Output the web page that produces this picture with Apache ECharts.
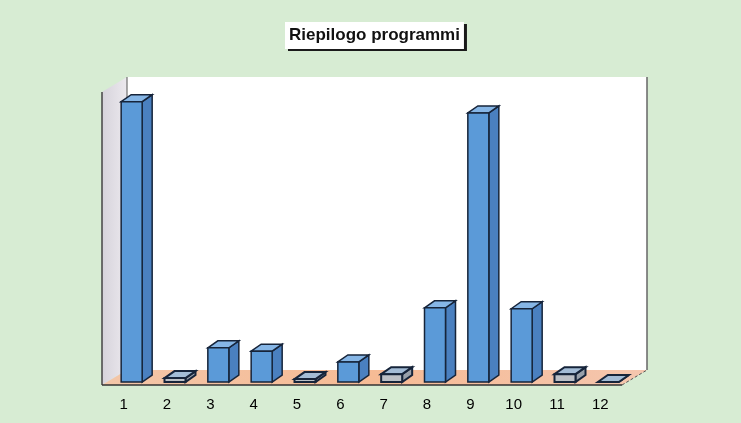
<!DOCTYPE html>
<html>
<head>
<meta charset="utf-8">
<script src="https://cdn.jsdelivr.net/npm/echarts@6/dist/echarts.min.js"></script>
<style>
  html, body { margin: 0; padding: 0; background: #d7ecd3; }
  #chart { width: 741px; height: 423px; }
</style>
</head>
<body>
<div id="chart"></div>
<script>
// dati del grafico
const programmi = ['1', '2', '3', '4', '5', '6', '7', '8', '9', '10', '11', '12'];
const valori = [57.4, 0.8, 7, 6.3, 0.6, 4.1, 1.6, 15.2, 55.1, 15, 1.6, 0];

// profondita' 3D (pareti e barre)
const wallDx = 25, wallDy = -15;
const barDx = 10, barDy = -7;

const chart = echarts.init(document.getElementById('chart'));

function renderFrame(params, api) {
  const cs = params.coordSys;
  const x0 = cs.x, y0 = cs.y, w = cs.width, h = cs.height;
  return {
    type: 'group',
    children: [
      { // parete di fondo
        type: 'rect',
        shape: { x: x0 + wallDx, y: y0 + wallDy, width: w, height: h },
        style: { fill: '#ffffff' }
      },
      { // parete sinistra
        type: 'polygon',
        shape: { points: [[x0, y0], [x0 + wallDx, y0 + wallDy], [x0 + wallDx, y0 + h + wallDy], [x0, y0 + h]] },
        style: {
          fill: new echarts.graphic.LinearGradient(0, 0, 1, 0, [
            { offset: 0, color: '#d6d3db' },
            { offset: 1, color: '#ece9ee' }
          ])
        }
      },
      { // pavimento
        type: 'polygon',
        shape: { points: [[x0, y0 + h], [x0 + wallDx, y0 + h + wallDy], [x0 + w + wallDx, y0 + h + wallDy], [x0 + w, y0 + h]] },
        style: {
          fill: new echarts.graphic.LinearGradient(0, 0, 1, 0, [
            { offset: 0, color: '#f3c6a8' },
            { offset: 0.5, color: '#f6bb95' },
            { offset: 1, color: '#f5c6ae' }
          ])
        }
      },
      { type: 'line', shape: { x1: x0, y1: y0, x2: x0, y2: y0 + h }, style: { stroke: '#444', lineWidth: 1.5 } },
      { type: 'line', shape: { x1: x0 + wallDx, y1: y0 + wallDy, x2: x0 + wallDx, y2: y0 + h + wallDy }, style: { stroke: '#555', lineWidth: 1 } },
      { type: 'line', shape: { x1: x0 + w + wallDx, y1: y0 + wallDy, x2: x0 + w + wallDx, y2: y0 + h + wallDy }, style: { stroke: '#666', lineWidth: 1.5 } },
      { type: 'line', shape: { x1: x0, y1: y0 + h, x2: x0 + w, y2: y0 + h }, style: { stroke: '#333', lineWidth: 1.5 } },
      { type: 'line', shape: { x1: x0 + w, y1: y0 + h, x2: x0 + w + wallDx, y2: y0 + h + wallDy }, style: { stroke: '#555', lineWidth: 1, lineDash: [3, 2] } }
    ]
  };
}

function renderBar(params, api) {
  const idx = api.value(0);
  const v = api.value(1);
  const base = api.coord([idx, 0]);
  const top = api.coord([idx, v]);
  const bw = 21;
  const xl = base[0] - bw / 2 + 8;
  const xr = xl + bw;
  const yb = base[1] - 3;
  const yt = top[1] - 3;
  const small = v < 3;
  const front = small ? '#bcc0c6' : '#5b9ad8';
  const side = small ? '#98a0aa' : '#4a80c0';
  const topC = small ? '#a3bcd6' : '#86b6e6';
  const stroke = '#16243a';
  const lw = small ? 2 : 1.5;
  return {
    type: 'group',
    children: [
      {
        type: 'polygon',
        shape: { points: [[xr, yt], [xr + barDx, yt + barDy], [xr + barDx, yb + barDy], [xr, yb]] },
        style: { fill: side, stroke: stroke, lineWidth: lw }
      },
      {
        type: 'polygon',
        shape: { points: [[xl, yt], [xl + barDx, yt + barDy], [xr + barDx, yt + barDy], [xr, yt]] },
        style: { fill: topC, stroke: stroke, lineWidth: lw }
      },
      {
        type: 'rect',
        shape: { x: xl, y: yt, width: bw, height: yb - yt },
        style: { fill: front, stroke: stroke, lineWidth: lw }
      }
    ]
  };
}

chart.setOption({
  backgroundColor: '#d7ecd3',
  animation: false,
  title: {
    text: 'Riepilogo programmi',
    left: 285,
    top: 22,
    padding: [5, 4, 5, 4],
    backgroundColor: '#ffffff',
    shadowColor: '#1a1a1a',
    shadowOffsetX: 3,
    shadowOffsetY: 2,
    shadowBlur: 0,
    textStyle: { fontFamily: 'Liberation Sans, Arial, sans-serif', fontSize: 17, fontWeight: 'bold', color: '#111' }
  },
  grid: { left: 102, right: 119, top: 92, bottom: 38 },
  xAxis: {
    type: 'category',
    data: programmi,
    axisLine: { show: false },
    axisTick: { show: false },
    axisLabel: { margin: 12, fontSize: 15, color: '#000', fontFamily: 'Liberation Sans, Arial, sans-serif' }
  },
  yAxis: {
    type: 'value',
    min: 0,
    max: 60,
    show: false,
    splitLine: { show: false }
  },
  series: [
    {
      type: 'custom',
      name: 'cornice',
      renderItem: renderFrame,
      data: [[0, 0]],
      silent: true,
      z: 1
    },
    {
      type: 'custom',
      name: 'Programmi',
      renderItem: renderBar,
      data: valori.map((v, i) => [i, v]),
      z: 2
    }
  ]
});
</script>
</body>
</html>
